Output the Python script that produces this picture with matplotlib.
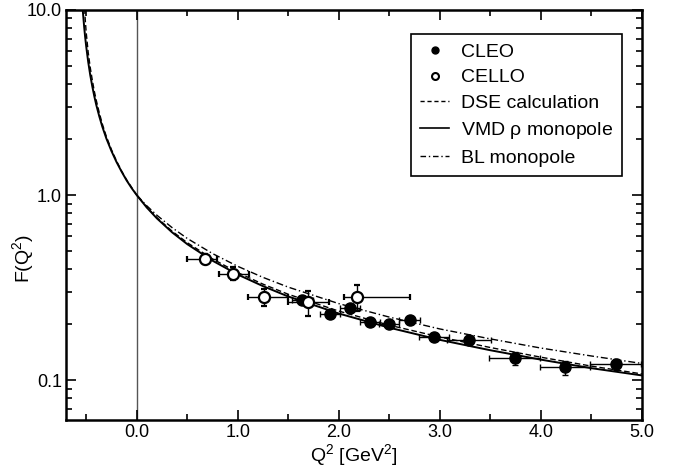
import matplotlib
matplotlib.use('Agg')
import matplotlib.pyplot as plt
from matplotlib.ticker import LogLocator, MultipleLocator, NullFormatter
from matplotlib.lines import Line2D

plt.rcParams['font.family'] = ['Liberation Sans', 'DejaVu Sans']
plt.rcParams['mathtext.fontset'] = 'custom'
plt.rcParams['mathtext.rm'] = 'Liberation Sans'
plt.rcParams['mathtext.it'] = 'Liberation Sans'

# ---- data ----
cleo_q2 = [1.64, 1.91, 2.11, 2.31, 2.50, 2.70, 2.94, 3.29, 3.74, 4.24, 4.74]
cleo_f = [0.272, 0.229, 0.244, 0.205, 0.202, 0.210, 0.172, 0.164, 0.131, 0.117, 0.122]
cleo_xerr = [0.10, 0.10, 0.10, 0.10, 0.10, 0.10, 0.15, 0.22, 0.25, 0.25, 0.25]
cleo_yerr = [0.012, 0.010, 0.010, 0.008, 0.008, 0.008, 0.008, 0.008, 0.010, 0.010, 0.008]

cello_q2 = [0.68, 0.95, 1.26, 1.70, 2.18]
cello_f = [0.453, 0.376, 0.280, 0.263, 0.280]
cello_xlo = [0.18, 0.14, 0.16, 0.20, 0.13]
cello_xhi = [0.11, 0.16, 0.24, 0.20, 0.52]
cello_yerr = [0.030, 0.030, 0.030, 0.040, 0.045]

vmd_q2 = [-0.534, -0.53, -0.52, -0.51, -0.50, -0.48, -0.46, -0.44, -0.42, -0.40,
          -0.37, -0.34, -0.30, -0.25, -0.20, -0.15, -0.10, -0.05, 0.0, 0.1, 0.2,
          0.35, 0.5, 0.75, 1.0, 1.25, 1.5, 2.0, 2.5, 3.0, 3.5, 4.0, 4.5, 5.0]
vmd_f = [10.05, 9.42, 8.12, 7.14, 6.38, 5.25, 4.46, 3.88, 3.43, 3.07,
         2.66, 2.34, 2.02, 1.73, 1.51, 1.34, 1.20, 1.09, 1.00, 0.856, 0.748,
         0.629, 0.543, 0.442, 0.372, 0.322, 0.283, 0.229, 0.192, 0.165, 0.145,
         0.129, 0.116, 0.106]

dse_q2 = [-0.515, -0.51, -0.50, -0.48, -0.46, -0.44, -0.42, -0.40, -0.37, -0.34,
          -0.30, -0.25, -0.20, -0.15, -0.10, -0.05, 0.0, 0.1, 0.2, 0.35, 0.5,
          0.75, 1.0, 1.25, 1.5, 2.0, 2.5, 3.0, 3.5, 4.0, 4.5, 5.0]
dse_f = [10.2, 9.0, 7.6, 5.9, 4.9, 4.2, 3.65, 3.25, 2.78, 2.42,
         2.07, 1.76, 1.53, 1.35, 1.21, 1.10, 1.00, 0.860, 0.755, 0.638, 0.553,
         0.452, 0.381, 0.330, 0.291, 0.236, 0.198, 0.171, 0.150, 0.133, 0.119, 0.108]

bl_q2 = [0.0, 0.1, 0.2, 0.35, 0.5, 0.75, 1.0, 1.25, 1.5, 2.0, 2.5, 3.0, 3.5, 4.0, 4.5, 5.0]
bl_f = [1.00, 0.875, 0.778, 0.667, 0.583, 0.483, 0.412, 0.359, 0.318, 0.259,
        0.219, 0.189, 0.167, 0.149, 0.135, 0.123]

# ---- figure ----
fig = plt.figure(figsize=(6.8, 4.76), dpi=100)
ax = fig.add_axes([0.097, 0.118, 0.847, 0.861])

ax.axvline(0.0, color='#555555', lw=1.0, zorder=1)

ax.plot(dse_q2, dse_f, color='black', lw=1.0, ls=(0, (4, 2)), zorder=3)
ax.plot(vmd_q2, vmd_f, color='black', lw=1.4, ls='-', zorder=3)
ax.plot(bl_q2, bl_f, color='black', lw=1.0, ls=(0, (5, 2, 1, 2)), zorder=3)

ax.errorbar(cleo_q2, cleo_f, xerr=cleo_xerr, yerr=cleo_yerr, fmt='o',
            color='black', ms=8, lw=1.0, capsize=2.5, zorder=4)
ax.errorbar(cello_q2, cello_f, xerr=[cello_xlo, cello_xhi], yerr=cello_yerr,
            fmt='o', color='black', mfc='white', mec='black', mew=1.6,
            ms=8, lw=1.0, capsize=2.5, zorder=5)

ax.set_yscale('log')
ax.set_xlim(-0.7, 5.0)
ax.set_ylim(0.061, 10.0)

ax.set_xticks([0, 1, 2, 3, 4, 5])
ax.set_xticklabels(['0.0', '1.0', '2.0', '3.0', '4.0', '5.0'])
ax.xaxis.set_minor_locator(MultipleLocator(0.5))
ax.set_yticks([0.1, 1.0, 10.0])
ax.set_yticklabels(['0.1', '1.0', '10.0'])
ax.yaxis.set_minor_locator(LogLocator(base=10, subs=range(2, 10)))
ax.yaxis.set_minor_formatter(NullFormatter())

ax.tick_params(which='both', direction='in', top=True, right=True,
               labelsize=13, width=1.2)
ax.tick_params(which='major', length=7, pad=3)
ax.tick_params(which='minor', length=4)
for s in ax.spines.values():
    s.set_linewidth(1.8)

ax.set_xlabel(r'Q$^2$ [GeV$^2$]', fontsize=14, labelpad=1)
ax.set_ylabel(r'F(Q$^2$)', fontsize=14)
ax.yaxis.set_label_coords(-0.052, 0.395)

handles = [
    Line2D([], [], ls='none', marker='o', color='black', ms=5),
    Line2D([], [], ls='none', marker='o', mfc='white', mec='black', mew=1.5, ms=5),
    Line2D([], [], color='black', lw=1.0, ls=(0, (3, 2))),
    Line2D([], [], color='black', lw=1.2, ls='-'),
    Line2D([], [], color='black', lw=1.0, ls=(0, (4, 2, 1, 2))),
]
labels = ['CLEO', 'CELLO', 'DSE calculation', r'VMD $\rho$ monopole', 'BL monopole']
leg = ax.legend(handles, labels, loc='upper right', bbox_to_anchor=(0.965, 0.941),
                fontsize=14, frameon=True, fancybox=False, edgecolor='black',
                framealpha=1, handlelength=1.5, handletextpad=0.6,
                labelspacing=0.42, borderpad=0.45, borderaxespad=0.0)
leg.get_frame().set_linewidth(1.2)

fig.savefig('out.png', dpi=100)
